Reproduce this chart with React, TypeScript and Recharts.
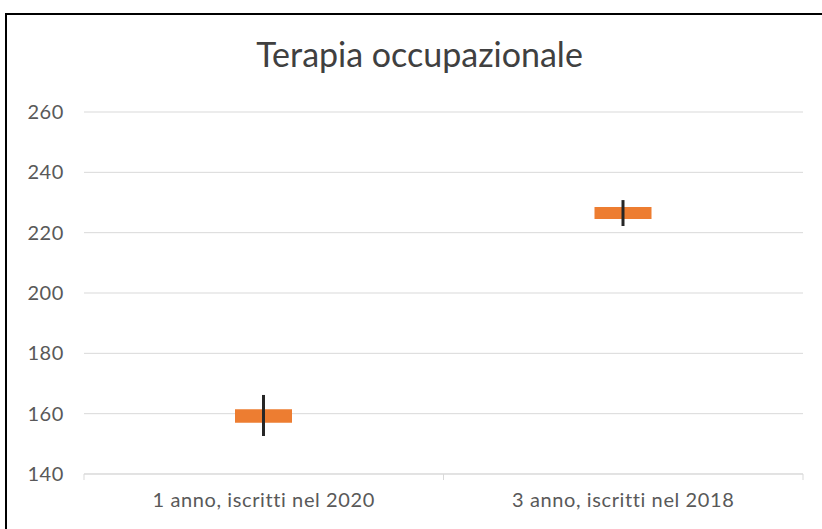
import { Bar, CartesianGrid, ComposedChart, XAxis, YAxis } from "recharts";

const categories = ["1 anno, iscritti nel 2020", "3 anno, iscritti nel 2018"];
const highs = [166.2, 230.8];
const lows = [152.6, 222.2];
const opens = [161.5, 228.5];
const closes = [157.0, 224.5];
const yTicks = [140, 160, 180, 200, 220, 240, 260];

const data = categories.map((name, i) => ({
  name,
  wick: [lows[i], highs[i]],
  box: [closes[i], opens[i]],
}));

const FONT = "Lato, 'Open Sans', sans-serif";

function CategoryTick(props: any) {
  const { x, y, payload, index, visibleTicksCount } = props;
  const half = payload.offset ?? 0;
  const axisY = y - 8;
  return (
    <g>
      <line x1={x - half} x2={x - half} y1={axisY} y2={axisY + 6} stroke="#d9d9d9" />
      {index === visibleTicksCount - 1 && (
        <line x1={x + half} x2={x + half} y1={axisY} y2={axisY + 6} stroke="#d9d9d9" />
      )}
      <text
        x={x}
        y={y}
        dy={25}
        textAnchor="middle"
        fill="#595959"
        fontSize={20}
        letterSpacing={0.6}
        fontFamily={FONT}
      >
        {payload.value}
      </text>
    </g>
  );
}

export default function App() {
  return (
    <div
      style={{
        position: "fixed",
        left: 0,
        top: 0,
        width: 822,
        height: 529,
        background: "#fff",
        overflow: "hidden",
      }}
    >
      <div
        style={{
          position: "absolute",
          left: 5,
          top: 13,
          width: 840,
          height: 540,
          borderLeft: "2px solid #000",
          borderTop: "2px solid #000",
        }}
      />
      <div
        style={{
          position: "absolute",
          left: 0,
          top: 33,
          width: 839,
          textAlign: "center",
          fontFamily: FONT,
          fontSize: 34,
          color: "#404040",
        }}
      >
        Terapia occupazionale
      </div>
      <div style={{ position: "absolute", left: 0, top: 0 }}>
        <ComposedChart
          width={822}
          height={529}
          data={data}
          margin={{ top: 112, right: 19, bottom: 0, left: 0 }}
          barGap={0}
        >
          <CartesianGrid vertical={false} stroke="#d9d9d9" />
          <XAxis
            dataKey="name"
            xAxisId="box"
            axisLine={{ stroke: "#d9d9d9" }}
            tickLine={false}
            tick={<CategoryTick />}
            tickMargin={2}
            height={55}
          />
          <XAxis dataKey="name" xAxisId="wick" hide />
          <YAxis
            domain={[140, 260]}
            ticks={yTicks}
            width={84}
            axisLine={false}
            tickLine={false}
            tickMargin={14}
            tick={{ fill: "#595959", fontSize: 20, fontFamily: FONT, letterSpacing: 0.6 }}
          />
          <Bar
            xAxisId="box"
            dataKey="box"
            barSize={57}
            fill="#ED7D31"
            isAnimationActive={false}
          />
          <Bar
            xAxisId="wick"
            dataKey="wick"
            barSize={3}
            fill="#262626"
            isAnimationActive={false}
          />
        </ComposedChart>
      </div>
    </div>
  );
}
